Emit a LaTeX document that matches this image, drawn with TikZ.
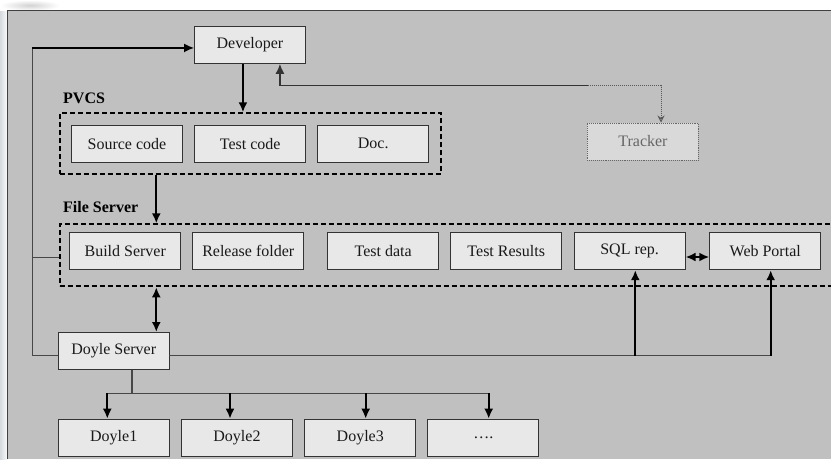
\documentclass[tikz,border=0pt]{standalone}
\usepackage{fontspec}
\setmainfont{Liberation Serif}
\usetikzlibrary{arrows.meta,calc}
\definecolor{panel}{HTML}{C0C0C0}
\definecolor{boxfill}{HTML}{E8E8E8}
\definecolor{edgegray}{HTML}{D6DADD}
\tikzset{
  box/.style={draw=black!80, line width=0.9pt, fill=boxfill, inner sep=0pt,
    anchor=north west, minimum height=37pt, font=\fontsize{16}{19}\selectfont, text=black!90},
  group/.style={draw=black, line width=2pt, dash pattern=on 5pt off 3pt,
    inner sep=0pt, anchor=north west},
  tip/.tip={Latex[length=10pt,width=9pt]},
  heavy/.style={line width=2.2pt, draw=black, -tip},
  both/.style={line width=2.2pt, draw=black, tip-tip},
  light/.style={line width=1.3pt, draw=black!72},
  label/.style={font=\fontsize{16}{19}\selectfont\bfseries, anchor=base west, inner sep=0pt, text=black}
}
\begin{document}
\begin{tikzpicture}[x=1pt,y=-1pt]
\useasboundingbox (0,0) rectangle (831,459);
% page background and panel
\fill[white] (0,0) rectangle (831,459);
\shade[left color=edgegray, right color=white!90!edgegray] (0,10) rectangle (7.5,459);
\shade[inner color=gray!35, outer color=white] (0,0) rectangle (60,10.5);
\fill[panel] (7.5,10.5) rectangle (831,459);
\draw[black!75, line width=1pt] (7.5,459) -- (7.5,10.5) -- (831,10.5);

% developer and tracker
\node[box, minimum width=111pt] (dev) at (194,26) {Developer};
\node[box, minimum width=111pt, minimum height=37pt, draw=black!60, densely dotted,
      fill=gray!30, text=black!60] (trk) at (587,122.5) {Tracker};

% PVCS group
\node[label] at (63,103) {PVCS};
\node[group, minimum width=381pt, minimum height=61pt] (pvcs) at (58.7,112.3) {};
\node[box, minimum width=111pt] (src) at (71,124.7) {Source code};
\node[box, minimum width=111pt] (tcode) at (194.3,124.7) {Test code};
\node[box, minimum width=111pt] (doc) at (317.3,124.7) {Doc.};

% file server group
\node[label] at (63,212.7) {File Server};
\node[group, minimum width=790pt, minimum height=62pt] (fs) at (58.7,223.3) {};
\node[box, minimum width=111pt] (build) at (69.3,232.3) {Build Server};
\node[box, minimum width=111pt] (rel) at (192.3,232.3) {Release folder};
\node[box, minimum width=111pt] (tdata) at (327.3,232.3) {Test data};
\node[box, minimum width=111pt] (tres) at (450.3,232.3) {Test Results};
\node[box, minimum width=111pt] (sql) at (573.7,232.3) {SQL rep.};
\node[box, minimum width=111pt] (web) at (709.3,232.3) {Web Portal};

% doyle server and clients
\node[box, minimum width=110.5pt] (ds) at (58,332) {Doyle Server};
\node[box, minimum width=110.5pt] (d1) at (58,418.7) {Doyle1};
\node[box, minimum width=111pt] (d2) at (181,418.7) {Doyle2};
\node[box, minimum width=111pt] (d3) at (304.3,418.7) {Doyle3};
\node[box, minimum width=111pt] (d4) at (427.3,418.7) {….};

% junction points
\coordinate (loopx) at (32.3,0);
\coordinate (devout) at ($(dev.south)+(-7,0)$);
\coordinate (devin) at ($(dev.south)+(30,0)$);
\coordinate (devleft) at ($(dev.west)+(0,3)$);
\coordinate (fsleft) at ($(fs.west)+(0,2.5)$);
\coordinate (trkturn) at (661,85.7);
\coordinate (solidend) at (588,85.7);
\coordinate (busy) at (0,355.7);
\coordinate (fanout) at (132,393.3);
\coordinate (pvcsdrop) at (156.3,0);

% developer -> PVCS
\draw[heavy] (devout) -- (devout |- pvcs.north);
% tracker <-> developer
\draw[line width=1.3pt, draw=black!80, tip-] (devin) |- (solidend);
\draw[line width=1pt, draw=black!65, densely dotted, -{Stealth[length=7pt,width=7pt,open]}]
  (solidend) -- (trkturn) -- (trkturn |- trk.north);
% PVCS -> file server
\draw[heavy] (pvcsdrop |- pvcs.south) -- (pvcsdrop |- fs.north);
% file server <-> doyle server
\draw[both] (pvcsdrop |- fs.south) -- (pvcsdrop |- ds.north);
% SQL <-> web portal
\draw[both] (sql.east |- 0,257) -- (web.west |- 0,257);

% loop back to the developer
\draw[light] (ds.west |- busy) -- (loopx |- busy) -- (loopx |- devleft);
\draw[heavy, line width=1.4pt] (loopx |- devleft) -- (devleft);
\draw[light] (loopx |- fsleft) -- (fsleft);

% doyle server -> SQL and web portal
\draw[light] (ds.east |- busy) -- (770.7,0 |- busy);
\draw[heavy] (635.3,0 |- busy) -- (635.3,0 |- sql.south);
\draw[heavy] (770.7,0 |- busy) -- (770.7,0 |- web.south);

% doyle server -> clients
\draw[light] (fanout |- ds.south) -- (fanout);
\draw[light] (107.3,0 |- fanout) -- (488.7,0 |- fanout);
\draw[heavy] (107.3,0 |- fanout) -- (107.3,0 |- d1.north);
\draw[heavy] (230,0 |- fanout) -- (230,0 |- d2.north);
\draw[heavy] (365.7,0 |- fanout) -- (365.7,0 |- d3.north);
\draw[heavy] (488.7,0 |- fanout) -- (488.7,0 |- d4.north);
\end{tikzpicture}
\end{document}
